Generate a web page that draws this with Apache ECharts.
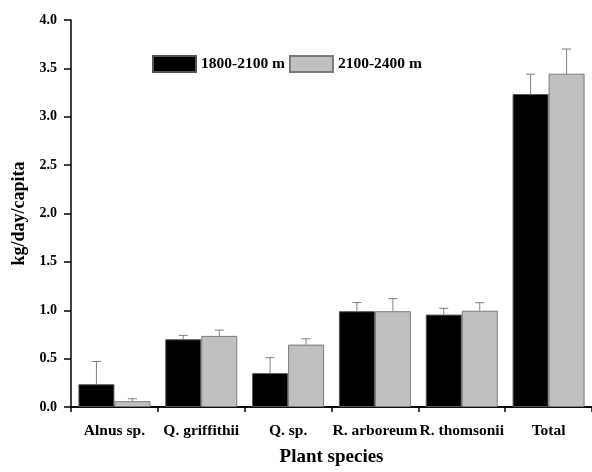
<!DOCTYPE html>
<html>
<head>
<meta charset="utf-8">
<script src="https://cdn.jsdelivr.net/npm/echarts@6/dist/echarts.min.js"></script>
<style>html,body{margin:0;padding:0;background:#fff}#c{width:592px;height:472px}</style>
</head>
<body>
<div id="c"></div>
<script>
var categories = ['Alnus sp.', 'Q. griffithii', 'Q. sp.', 'R. arboreum', 'R. thomsonii', 'Total'];
var seriesNames = ['1800-2100 m', '2100-2400 m'];
var low = [0.235, 0.70, 0.35, 0.99, 0.955, 3.235];
var lowErr = [0.235, 0.04, 0.16, 0.09, 0.065, 0.205];
var high = [0.06, 0.735, 0.645, 0.99, 0.995, 3.445];
var highErr = [0.025, 0.06, 0.06, 0.13, 0.083, 0.255];
var yTicks = { min: 0, max: 4, interval: 0.5 };

var FONT = "'Liberation Serif', 'Times New Roman', serif";
var BAR_W = 36;

function errSeries(vals, errs, side) {
  return {
    type: 'custom',
    xAxisIndex: 0,
    z: 1,
    silent: true,
    data: vals.map(function (v, i) { return [i, v, v + errs[i]]; }),
    renderItem: function (params, api) {
      var base = api.coord([api.value(0), api.value(1)]);
      var top = api.coord([api.value(0), api.value(2)]);
      var x = base[0] + side * BAR_W / 2;
      var cap = 4.5;
      return {
        type: 'group',
        children: [
          { type: 'line', shape: { x1: x, y1: base[1], x2: x, y2: top[1] }, style: { stroke: '#808080', lineWidth: 1 } },
          { type: 'line', shape: { x1: x - cap, y1: top[1], x2: x + cap, y2: top[1] }, style: { stroke: '#808080', lineWidth: 1 } }
        ]
      };
    }
  };
}

var chart = echarts.init(document.getElementById('c'), null, { renderer: 'canvas' });
chart.setOption({
  animation: false,
  backgroundColor: '#fff',
  textStyle: { fontFamily: FONT },
  grid: { left: 71, top: 20, bottom: 60, right: -15, containLabel: false },
  legend: {
    data: seriesNames,
    left: 152, top: 55, padding: 0,
    itemWidth: 43, itemHeight: 16, itemGap: 4,
    icon: 'rect',
    textStyle: { fontFamily: FONT, fontWeight: 'bold', fontSize: 15.5, color: '#000' }
  },
  xAxis: [{
    type: 'category',
    data: categories,
    name: 'Plant species',
    nameLocation: 'middle',
    nameGap: 41,
    nameTextStyle: { fontFamily: FONT, fontWeight: 'bold', fontSize: 19, color: '#000' },
    axisLine: { lineStyle: { color: '#000', width: 1.5 } },
    axisTick: { alignWithLabel: true, length: 8, lineStyle: { color: '#000', width: 1.5 } },
    axisLabel: { margin: 16, interval: 0, fontFamily: FONT, fontWeight: 'bold', fontSize: 15.5, color: '#000' }
  }, {
    type: 'category',
    data: categories,
    position: 'bottom',
    offset: 0,
    axisLine: { show: true, lineStyle: { color: '#000', width: 1.5 } },
    axisTick: { show: true, alignWithLabel: false, length: 5, lineStyle: { color: '#000', width: 1.5 } },
    axisLabel: { show: false }
  }],
  yAxis: {
    type: 'value',
    min: yTicks.min, max: yTicks.max, interval: yTicks.interval,
    name: 'kg/day/capita',
    nameLocation: 'middle',
    nameGap: 43,
    nameTextStyle: { fontFamily: FONT, fontWeight: 'bold', fontSize: 18, color: '#000' },
    axisLine: { show: true, lineStyle: { color: '#000', width: 1.5 } },
    axisTick: { show: true, length: 7, lineStyle: { color: '#000', width: 1.5 } },
    splitLine: { show: false },
    axisLabel: {
      margin: 14, fontFamily: FONT, fontWeight: 'bold', fontSize: 14, color: '#000',
      formatter: function (v) { return v.toFixed(1); }
    }
  },
  series: [{
    name: seriesNames[0],
    type: 'bar',
    data: low,
    barWidth: BAR_W,
    barGap: '0%',
    z: 2,
    itemStyle: { color: '#000', borderColor: '#555', borderWidth: 1 }
  }, {
    name: seriesNames[1],
    type: 'bar',
    data: high,
    barWidth: BAR_W,
    barGap: '0%',
    z: 2,
    itemStyle: { color: '#c0c0c0', borderColor: '#7a7a7a', borderWidth: 1 }
  },
  errSeries(low, lowErr, -1),
  errSeries(high, highErr, 1)
  ]
});
</script>
</body>
</html>
